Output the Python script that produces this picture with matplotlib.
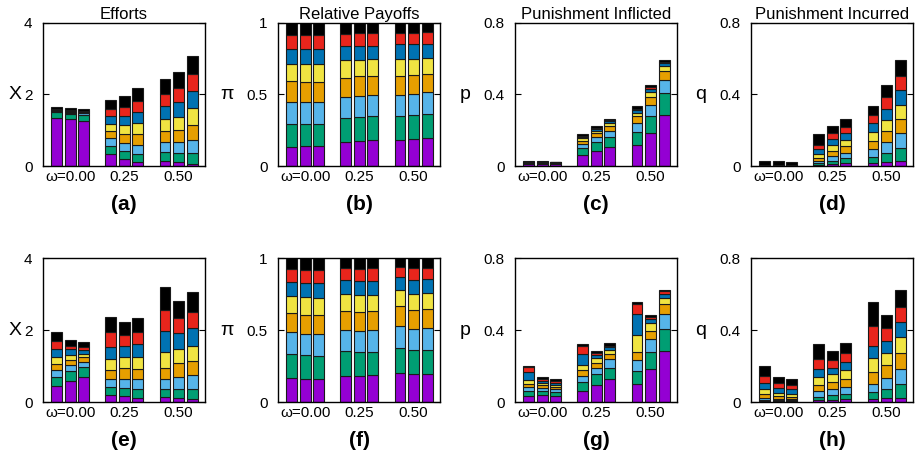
import matplotlib
matplotlib.use("Agg")
import matplotlib.pyplot as plt
import numpy as np

plt.rcParams['font.family'] = ['Liberation Sans', 'DejaVu Sans']

# segment colours, bottom to top
SEG_COLORS = ['#9400D3', '#009E73', '#56B4E9', '#E69F00',
              '#F0E442', '#0072B2', '#E8251C', '#000000']

GROUP_LABELS = ['\u03c9=0.00', '0.25', '0.50']

# cumulative tops of the 8 stacked segments, one row per bar
# (3 bars per omega group, 3 groups)
tops_a = [
    [1.35, 1.50, 1.53, 1.54, 1.55, 1.58, 1.59, 1.64],
    [1.31, 1.46, 1.49, 1.50, 1.51, 1.54, 1.56, 1.62],
    [1.27, 1.43, 1.48, 1.49, 1.50, 1.52, 1.54, 1.60],
    [0.34, 0.56, 0.77, 0.97, 1.18, 1.39, 1.60, 1.86],
    [0.20, 0.41, 0.64, 0.90, 1.15, 1.41, 1.66, 1.97],
    [0.11, 0.34, 0.60, 0.90, 1.21, 1.51, 1.83, 2.19],
    [0.15, 0.38, 0.66, 0.99, 1.32, 1.67, 2.02, 2.43],
    [0.10, 0.36, 0.66, 1.01, 1.38, 1.79, 2.18, 2.63],
    [0.06, 0.36, 0.73, 1.16, 1.63, 2.09, 2.56, 3.07],
]
tops_b = [
    [0.136, 0.294, 0.446, 0.591, 0.715, 0.820, 0.916, 1.0],
    [0.138, 0.296, 0.446, 0.590, 0.715, 0.820, 0.915, 1.0],
    [0.137, 0.295, 0.446, 0.590, 0.714, 0.820, 0.914, 1.0],
    [0.171, 0.336, 0.481, 0.617, 0.738, 0.836, 0.925, 1.0],
    [0.178, 0.346, 0.491, 0.626, 0.743, 0.841, 0.930, 1.0],
    [0.182, 0.350, 0.498, 0.631, 0.745, 0.841, 0.930, 1.0],
    [0.182, 0.350, 0.498, 0.631, 0.745, 0.850, 0.930, 1.0],
    [0.189, 0.357, 0.505, 0.638, 0.750, 0.850, 0.932, 1.0],
    [0.199, 0.364, 0.514, 0.645, 0.757, 0.855, 0.935, 1.0],
]
tops_c = [
    [0.012, 0.016, 0.018, 0.020, 0.021, 0.022, 0.023, 0.026],
    [0.012, 0.016, 0.018, 0.020, 0.021, 0.022, 0.023, 0.026],
    [0.011, 0.015, 0.017, 0.019, 0.020, 0.021, 0.022, 0.025],
    [0.062, 0.099, 0.123, 0.142, 0.155, 0.164, 0.170, 0.179],
    [0.086, 0.133, 0.161, 0.183, 0.198, 0.209, 0.215, 0.224],
    [0.107, 0.164, 0.198, 0.224, 0.241, 0.250, 0.256, 0.264],
    [0.116, 0.191, 0.239, 0.277, 0.299, 0.314, 0.321, 0.335],
    [0.185, 0.279, 0.340, 0.385, 0.413, 0.430, 0.441, 0.452],
    [0.288, 0.409, 0.482, 0.531, 0.561, 0.576, 0.583, 0.591],
]
tops_d = [
    [0.000, 0.001, 0.001, 0.002, 0.002, 0.003, 0.004, 0.026],
    [0.000, 0.001, 0.001, 0.002, 0.002, 0.003, 0.004, 0.026],
    [0.000, 0.001, 0.001, 0.002, 0.002, 0.003, 0.004, 0.025],
    [0.004, 0.015, 0.028, 0.043, 0.067, 0.093, 0.120, 0.179],
    [0.009, 0.030, 0.054, 0.086, 0.120, 0.151, 0.183, 0.224],
    [0.015, 0.043, 0.075, 0.110, 0.146, 0.183, 0.217, 0.264],
    [0.015, 0.052, 0.093, 0.142, 0.189, 0.239, 0.284, 0.336],
    [0.022, 0.075, 0.133, 0.194, 0.260, 0.320, 0.385, 0.452],
    [0.028, 0.103, 0.183, 0.264, 0.344, 0.426, 0.503, 0.591],
]
tops_e = [
    [0.456, 0.707, 0.884, 1.060, 1.237, 1.479, 1.693, 1.953],
    [0.595, 0.856, 1.023, 1.163, 1.302, 1.460, 1.553, 1.730],
    [0.707, 0.967, 1.116, 1.237, 1.340, 1.440, 1.516, 1.656],
    [0.205, 0.409, 0.651, 0.902, 1.181, 1.535, 1.935, 2.372],
    [0.167, 0.391, 0.651, 0.949, 1.247, 1.563, 1.860, 2.233],
    [0.121, 0.372, 0.651, 0.930, 1.256, 1.600, 1.935, 2.326],
    [0.130, 0.353, 0.633, 0.949, 1.377, 1.981, 2.567, 3.181],
    [0.121, 0.372, 0.698, 1.070, 1.470, 1.907, 2.326, 2.809],
    [0.093, 0.372, 0.744, 1.135, 1.563, 2.047, 2.512, 3.042],
]
tops_f = [
    [0.170, 0.330, 0.484, 0.616, 0.733, 0.835, 0.921, 1.0],
    [0.163, 0.323, 0.474, 0.605, 0.726, 0.826, 0.916, 1.0],
    [0.158, 0.319, 0.470, 0.602, 0.721, 0.823, 0.914, 1.0],
    [0.184, 0.351, 0.500, 0.635, 0.751, 0.847, 0.928, 1.0],
    [0.184, 0.349, 0.495, 0.628, 0.742, 0.840, 0.926, 1.0],
    [0.186, 0.349, 0.498, 0.630, 0.744, 0.842, 0.928, 1.0],
    [0.198, 0.372, 0.528, 0.665, 0.777, 0.865, 0.935, 1.0],
    [0.191, 0.360, 0.509, 0.640, 0.753, 0.847, 0.930, 1.0],
    [0.191, 0.360, 0.512, 0.647, 0.756, 0.853, 0.930, 1.0],
]
tops_g = [
    [0.033, 0.063, 0.084, 0.102, 0.121, 0.167, 0.192, 0.199],
    [0.037, 0.063, 0.078, 0.093, 0.106, 0.119, 0.130, 0.141],
    [0.033, 0.056, 0.071, 0.084, 0.095, 0.106, 0.115, 0.127],
    [0.063, 0.110, 0.147, 0.177, 0.207, 0.264, 0.311, 0.322],
    [0.097, 0.153, 0.190, 0.218, 0.242, 0.259, 0.272, 0.283],
    [0.127, 0.190, 0.238, 0.268, 0.288, 0.303, 0.313, 0.326],
    [0.102, 0.175, 0.231, 0.279, 0.372, 0.487, 0.543, 0.558],
    [0.186, 0.279, 0.350, 0.394, 0.437, 0.460, 0.473, 0.484],
    [0.285, 0.406, 0.487, 0.543, 0.577, 0.601, 0.614, 0.621],
]
tops_h = [
    [0.006, 0.011, 0.024, 0.047, 0.074, 0.106, 0.145, 0.199],
    [0.006, 0.011, 0.019, 0.033, 0.052, 0.078, 0.106, 0.141],
    [0.004, 0.009, 0.017, 0.028, 0.045, 0.071, 0.097, 0.127],
    [0.009, 0.028, 0.060, 0.097, 0.140, 0.186, 0.238, 0.322],
    [0.011, 0.037, 0.071, 0.112, 0.153, 0.190, 0.233, 0.283],
    [0.015, 0.047, 0.084, 0.130, 0.177, 0.223, 0.273, 0.326],
    [0.015, 0.054, 0.102, 0.167, 0.242, 0.313, 0.424, 0.558],
    [0.020, 0.074, 0.134, 0.205, 0.275, 0.340, 0.409, 0.484],
    [0.024, 0.102, 0.186, 0.270, 0.359, 0.443, 0.530, 0.623],
]

PANELS = [
    ('a', tops_a, 'X', 4, ['0', '2', '4'], 'Efforts'),
    ('b', tops_b, '\u03c0', 1, ['0', '0.5', '1'], 'Relative Payoffs'),
    ('c', tops_c, 'p', 0.8, ['0', '0.4', '0.8'], 'Punishment Inflicted'),
    ('d', tops_d, 'q', 0.8, ['0', '0.4', '0.8'], 'Punishment Incurred'),
    ('e', tops_e, 'X', 4, ['0', '2', '4'], None),
    ('f', tops_f, '\u03c0', 1, ['0', '0.5', '1'], None),
    ('g', tops_g, 'p', 0.8, ['0', '0.4', '0.8'], None),
    ('h', tops_h, 'q', 0.8, ['0', '0.4', '0.8'], None),
]

W, H = 917, 461
fig = plt.figure(figsize=(W / 100, H / 100), dpi=100)

lefts = [43, 278, 515, 751]
ax_w = 162
rows = [(23, 166), (258, 402)]
ylab_x = [-0.175, -0.315, -0.309, -0.309]

# bar positions: 3 bars per group, one empty slot between groups
xpos = np.array([0, 1, 2, 4, 5, 6, 8, 9, 10])

for i, (letter, tops, ylab, ymax, ylabels, title) in enumerate(PANELS):
    r, c = divmod(i, 4)
    top_px, bot_px = rows[r]
    ax = fig.add_axes([lefts[c] / W, 1 - bot_px / H, ax_w / W, (bot_px - top_px) / H])
    tops = np.array(tops)
    bottoms = np.hstack([np.zeros((9, 1)), tops[:, :-1]])
    for k in range(8):
        ax.bar(xpos, tops[:, k] - bottoms[:, k], bottom=bottoms[:, k], width=0.8,
               color=SEG_COLORS[k], edgecolor='#1a1a1a', linewidth=0.8, zorder=2)
    ax.set_xlim(-1.0, 10.95)
    ax.set_ylim(0, ymax)
    ax.set_yticks([0, ymax / 2, ymax])
    ax.set_yticklabels(ylabels, fontsize=11)
    ax.set_xticks([1, 5, 9])
    ax.set_xticklabels(GROUP_LABELS, fontsize=11)
    ax.tick_params(axis='x', length=0, pad=3)
    ax.tick_params(axis='y', direction='in', length=4, width=0.8, right=True, pad=7.5)
    for sp in ax.spines.values():
        sp.set_linewidth(1.0)
    ax.set_ylabel(ylab, fontsize=14, rotation=0, ha='center', va='center')
    ax.yaxis.set_label_coords(ylab_x[c], 0.5)
    if title:
        ax.set_title(title, fontsize=12, pad=3)
    ax.text(0.5, -0.2, '(%s)' % letter, transform=ax.transAxes, ha='center',
            va='top', fontsize=15, fontweight='bold')

fig.savefig('out.png', dpi=100)
